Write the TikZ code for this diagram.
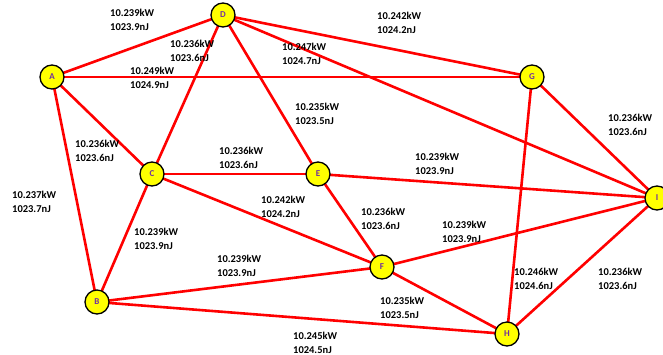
\documentclass[tikz,border=0pt]{standalone}
\usepackage{fontspec}
\setmainfont{Carlito}
\definecolor{nodepurple}{HTML}{7030A0}
\definecolor{nodeyellow}{HTML}{FFFF00}
\pgfdeclarelayer{bg}
\pgfsetlayers{bg,main}
\begin{document}
\begin{tikzpicture}[x=1pt,y=-1pt,
  vtx/.style={circle,draw=black,line width=1.3pt,fill=nodeyellow,minimum size=24pt,inner sep=0pt,
    font=\fontsize{9}{9}\selectfont\bfseries,text=nodepurple},
  edge/.style={draw=red,line width=2.6pt},
  lbl/.style={anchor=north west,inner sep=0pt,align=left,font=\fontsize{10.5}{13.5}\selectfont\bfseries,text=black}]
\useasboundingbox (0,0) rectangle (663,354);
\node[vtx] (A) at (52,77) {A};
\node[vtx] (D) at (223,15) {D};
\node[vtx] (C) at (152,174) {C};
\node[vtx] (E) at (318,174) {E};
\node[vtx] (G) at (532,77) {G};
\node[vtx] (I) at (657,198) {I};
\node[vtx] (F) at (382,267) {F};
\node[vtx] (B) at (97,302) {B};
\node[vtx] (H) at (507,334) {H};
\begin{pgfonlayer}{bg}
\path[edge] (A.center) -- (D.center);
\path[edge] (A.center) -- (G.center);
\path[edge] (A.center) -- (C.center);
\path[edge] (A.center) -- (B.center);
\path[edge] (D.center) -- (C.center);
\path[edge] (D.center) -- (E.center);
\path[edge] (D.center) -- (G.center);
\path[edge] (D.center) -- (I.center);
\path[edge] (C.center) -- (E.center);
\path[edge] (C.center) -- (F.center);
\path[edge] (C.center) -- (B.center);
\path[edge] (E.center) -- (I.center);
\path[edge] (E.center) -- (F.center);
\path[edge] (G.center) -- (I.center);
\path[edge] (G.center) -- (H.center);
\path[edge] (F.center) -- (B.center);
\path[edge] (F.center) -- (I.center);
\path[edge] (F.center) -- (H.center);
\path[edge] (B.center) -- (H.center);
\path[edge] (I.center) -- (H.center);
\end{pgfonlayer}
\node[lbl] (lAD) at (110,9) {10.239kW\\1023.9nJ};
\node[lbl] (lDC) at (170,40) {10.236kW\\1023.6nJ};
\node[lbl] (lDI) at (282,43) {10.247kW\\1024.7nJ};
\node[lbl] (lAG) at (130,67) {10.249kW\\1024.9nJ};
\node[lbl] (lDE) at (295,103) {10.235kW\\1023.5nJ};
\node[lbl] (lAC) at (75,140) {10.236kW\\1023.6nJ};
\node[lbl] (lCE) at (219,147) {10.236kW\\1023.6nJ};
\node[lbl] (lDG) at (377,12) {10.242kW\\1024.2nJ};
\node[lbl] (lGI) at (608,114) {10.236kW\\1023.6nJ};
\node[lbl] (lEI) at (415,153) {10.239kW\\1023.9nJ};
\node[lbl] (lAB) at (12,191) {10.237kW\\1023.7nJ};
\node[lbl] (lCF) at (261,196) {10.242kW\\1024.2nJ};
\node[lbl] (lCB) at (134,228) {10.239kW\\1023.9nJ};
\node[lbl] (lFB) at (217,255) {10.239kW\\1023.9nJ};
\node[lbl] (lBH) at (293,332) {10.245kW\\1024.5nJ};
\node[lbl] (lEF) at (361,208) {10.236kW\\1023.6nJ};
\node[lbl] (lFI) at (442,221) {10.239kW\\1023.9nJ};
\node[lbl] (lGH) at (514,268) {10.246kW\\1024.6nJ};
\node[lbl] (lIH) at (598,268) {10.236kW\\1023.6nJ};
\node[lbl] (lFH) at (380,297) {10.235kW\\1023.5nJ};
\end{tikzpicture}
\end{document}
